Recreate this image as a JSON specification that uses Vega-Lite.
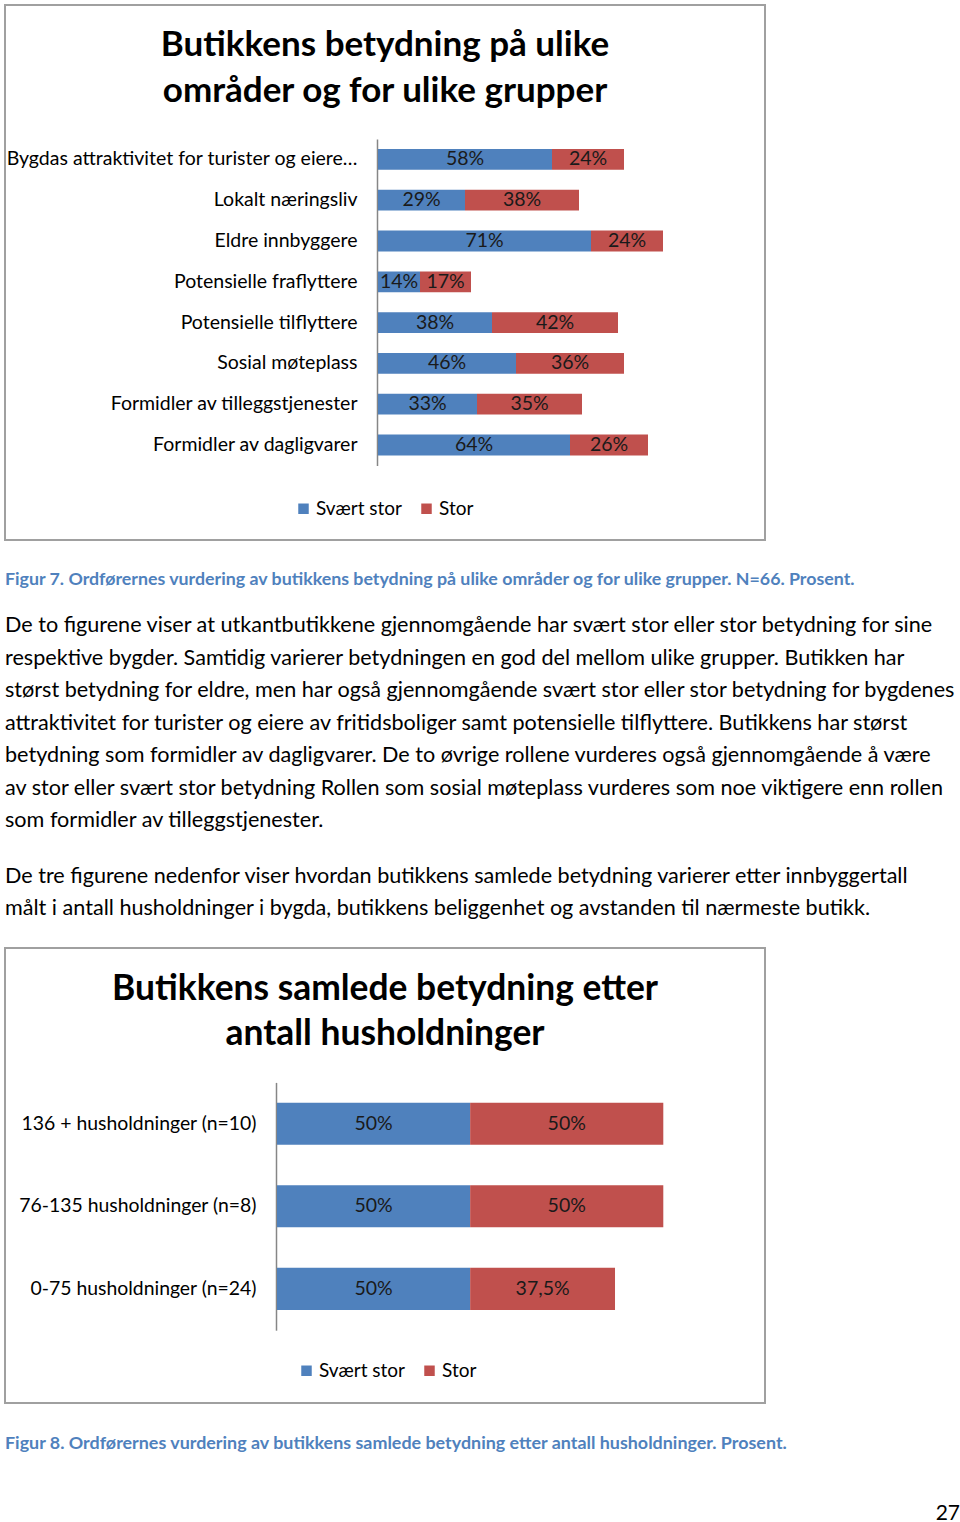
{
  "$schema": "https://vega.github.io/schema/vega-lite/v6.json",
  "background": "white",
  "padding": {"left": 4, "top": 4, "right": 0, "bottom": 0},
  "bounds": "flush",
  "spacing": 0,
  "resolve": {"scale": {"color": "independent"}, "legend": {"color": "independent"}},
  "config": {
    "view": {"stroke": null},
    "font": "Lato",
    "locale": {"number": {"decimal": ",", "thousands": " ", "grouping": [3], "currency": ["", " kr"]}},
    "legend": {"title": null, "symbolType": "square", "symbolSize": 110, "symbolStrokeWidth": 0, "labelFontSize": 19, "labelFont": "Lato", "labelColor": "#000000", "labelOffset": 3, "columnPadding": 15, "direction": "horizontal", "orient": "none"}
  },
  "datasets": {
    "figur7": [
      {"gruppe": "Bygdas attraktivitet for turister og eiere…", "grad": "Svært stor", "andel": 0.58},
      {"gruppe": "Bygdas attraktivitet for turister og eiere…", "grad": "Stor", "andel": 0.24},
      {"gruppe": "Lokalt næringsliv", "grad": "Svært stor", "andel": 0.29},
      {"gruppe": "Lokalt næringsliv", "grad": "Stor", "andel": 0.38},
      {"gruppe": "Eldre innbyggere", "grad": "Svært stor", "andel": 0.71},
      {"gruppe": "Eldre innbyggere", "grad": "Stor", "andel": 0.24},
      {"gruppe": "Potensielle fraflyttere", "grad": "Svært stor", "andel": 0.14},
      {"gruppe": "Potensielle fraflyttere", "grad": "Stor", "andel": 0.17},
      {"gruppe": "Potensielle tilflyttere", "grad": "Svært stor", "andel": 0.38},
      {"gruppe": "Potensielle tilflyttere", "grad": "Stor", "andel": 0.42},
      {"gruppe": "Sosial møteplass", "grad": "Svært stor", "andel": 0.46},
      {"gruppe": "Sosial møteplass", "grad": "Stor", "andel": 0.36},
      {"gruppe": "Formidler av tilleggstjenester", "grad": "Svært stor", "andel": 0.33},
      {"gruppe": "Formidler av tilleggstjenester", "grad": "Stor", "andel": 0.35},
      {"gruppe": "Formidler av dagligvarer", "grad": "Svært stor", "andel": 0.64},
      {"gruppe": "Formidler av dagligvarer", "grad": "Stor", "andel": 0.26}
    ],
    "figur8": [
      {"gruppe": "136 + husholdninger (n=10)", "grad": "Svært stor", "andel": 0.5},
      {"gruppe": "136 + husholdninger (n=10)", "grad": "Stor", "andel": 0.5},
      {"gruppe": "76-135 husholdninger (n=8)", "grad": "Svært stor", "andel": 0.5},
      {"gruppe": "76-135 husholdninger (n=8)", "grad": "Stor", "andel": 0.5},
      {"gruppe": "0-75 husholdninger (n=24)", "grad": "Svært stor", "andel": 0.5},
      {"gruppe": "0-75 husholdninger (n=24)", "grad": "Stor", "andel": 0.375}
    ],
    "figurtekst7": [
      {"tekst": "Figur 7. Ordførernes vurdering av butikkens betydning på ulike områder og for ulike grupper. N=66. Prosent."}
    ],
    "avsnitt1": [
      {"tekst": "De to figurene viser at utkantbutikkene gjennomgående har svært stor eller stor betydning for sine"},
      {"tekst": "respektive bygder. Samtidig varierer betydningen en god del mellom ulike grupper. Butikken har"},
      {"tekst": "størst betydning for eldre, men har også gjennomgående svært stor eller stor betydning for bygdenes"},
      {"tekst": "attraktivitet for turister og eiere av fritidsboliger samt potensielle tilflyttere. Butikkens har størst"},
      {"tekst": "betydning som formidler av dagligvarer. De to øvrige rollene vurderes også gjennomgående å være"},
      {"tekst": "av stor eller svært stor betydning Rollen som sosial møteplass vurderes som noe viktigere enn rollen"},
      {"tekst": "som formidler av tilleggstjenester."}
    ],
    "avsnitt2": [
      {"tekst": "De tre figurene nedenfor viser hvordan butikkens samlede betydning varierer etter innbyggertall"},
      {"tekst": "målt i antall husholdninger i bygda, butikkens beliggenhet og avstanden til nærmeste butikk."}
    ],
    "figurtekst8": [
      {"tekst": "Figur 8. Ordførernes vurdering av butikkens samlede betydning etter antall husholdninger. Prosent."}
    ],
    "side": [
      {"tekst": "27"}
    ]
  },
  "vconcat": [
    {
      "width": 760,
      "height": 535,
      "view": {"stroke": "#A0A0A0", "strokeWidth": 2, "fill": "white"},
      "title": {"text": ["Butikkens betydning på ulike", "områder og for ulike grupper"], "font": "Lato", "fontSize": 35, "fontWeight": "bold", "lineHeight": 46, "color": "#000000", "anchor": "middle", "frame": "group", "offset": -104},
      "data": {"name": "figur7"},
      "encoding": {
        "y": {"field": "gruppe", "type": "nominal", "sort": null,
          "scale": {"type": "band", "range": [134, 460.4], "paddingInner": 0.49, "paddingOuter": 0.245},
          "axis": {"title": null, "orient": "left", "offset": -372, "ticks": false, "labelPadding": 20, "labelFontSize": 19.5, "labelFont": "Lato", "labelColor": "#000000", "labelLimit": 400, "domainColor": "#868686", "domainWidth": 1.5, "grid": false}}
      },
      "layer": [
        {
          "mark": {"type": "bar"},
          "encoding": {
            "x": {"field": "andel", "type": "quantitative", "stack": "zero", "scale": {"domain": [0, 1], "range": [373, 673], "nice": false}, "axis": null},
            "color": {"field": "grad", "type": "nominal", "scale": {"domain": ["Svært stor", "Stor"], "range": ["#4F81BD", "#C0504D"]},
              "legend": {"orient": "none", "legendX": 289, "legendY": 494}},
            "order": {"field": "grad", "sort": "descending"}
          }
        },
        {
          "mark": {"type": "text", "align": "center", "baseline": "middle", "font": "Lato", "fontSize": 19.5, "color": "#1a1a1a"},
          "encoding": {
            "x": {"field": "andel", "type": "quantitative", "stack": "zero", "bandPosition": 0.5},
            "detail": {"field": "grad"},
            "order": {"field": "grad", "sort": "descending"},
            "text": {"field": "andel", "type": "quantitative", "format": "~%"}
          }
        }
      ]
    },
    {
      "width": 952,
      "height": 69.75,
      "data": {"name": "figurtekst7"},
      "mark": {"type": "text", "align": "left", "baseline": "middle", "font": "Lato", "fontSize": 17.8, "fontWeight": "bold", "color": "#4F81BD"},
      "encoding": {
        "x": {"datum": 0, "type": "quantitative", "scale": {"domain": [0, 1]}, "axis": null},
        "y": {"field": "tekst", "type": "nominal", "sort": null, "scale": {"type": "band", "paddingInner": 0, "paddingOuter": 1.24375, "align": 0.603}, "axis": null},
        "text": {"field": "tekst"}
      }
    },
    {
      "width": 952,
      "height": 227.5,
      "data": {"name": "avsnitt1"},
      "mark": {"type": "text", "align": "left", "baseline": "middle", "font": "Lato", "fontSize": 21.6, "color": "#000000"},
      "encoding": {
        "x": {"datum": 0, "type": "quantitative", "scale": {"domain": [0, 1]}, "axis": null},
        "y": {"field": "tekst", "type": "nominal", "sort": null, "scale": {"type": "band", "paddingInner": 0, "paddingOuter": 0}, "axis": null},
        "text": {"field": "tekst"}
      }
    },
    {
      "width": 952,
      "height": 109.75,
      "data": {"name": "avsnitt2"},
      "mark": {"type": "text", "align": "left", "baseline": "middle", "font": "Lato", "fontSize": 21.6, "color": "#000000"},
      "encoding": {
        "x": {"datum": 0, "type": "quantitative", "scale": {"domain": [0, 1]}, "axis": null},
        "y": {"field": "tekst", "type": "nominal", "sort": null, "scale": {"type": "band", "paddingInner": 0, "paddingOuter": 0.688}, "axis": null},
        "text": {"field": "tekst"}
      }
    },
    {
      "width": 760,
      "height": 455,
      "view": {"stroke": "#A0A0A0", "strokeWidth": 2, "fill": "white"},
      "title": {"text": ["Butikkens samlede betydning etter", "antall husholdninger"], "font": "Lato", "fontSize": 35.4, "fontWeight": "bold", "lineHeight": 45, "color": "#000000", "anchor": "middle", "frame": "group", "offset": -104},
      "data": {"name": "figur8"},
      "encoding": {
        "y": {"field": "gruppe", "type": "nominal", "sort": null,
          "scale": {"type": "band", "range": [134.4, 382.2], "paddingInner": 0.49, "paddingOuter": 0.245},
          "axis": {"title": null, "orient": "left", "offset": -271, "ticks": false, "labelPadding": 20, "labelFontSize": 19.4, "labelFont": "Lato", "labelColor": "#000000", "labelLimit": 400, "domainColor": "#868686", "domainWidth": 1.5, "grid": false}}
      },
      "layer": [
        {
          "mark": {"type": "bar"},
          "encoding": {
            "x": {"field": "andel", "type": "quantitative", "stack": "zero", "scale": {"domain": [0, 1], "range": [272, 658.3], "nice": false}, "axis": null},
            "color": {"field": "grad", "type": "nominal", "scale": {"domain": ["Svært stor", "Stor"], "range": ["#4F81BD", "#C0504D"]},
              "legend": {"orient": "none", "legendX": 292, "legendY": 413}},
            "order": {"field": "grad", "sort": "descending"}
          }
        },
        {
          "mark": {"type": "text", "align": "center", "baseline": "middle", "font": "Lato", "fontSize": 19.5, "color": "#1a1a1a"},
          "encoding": {
            "x": {"field": "andel", "type": "quantitative", "stack": "zero", "bandPosition": 0.5},
            "detail": {"field": "grad"},
            "order": {"field": "grad", "sort": "descending"},
            "text": {"field": "andel", "type": "quantitative", "format": "~%"}
          }
        }
      ]
    },
    {
      "width": 952,
      "height": 82,
      "data": {"name": "figurtekst8"},
      "mark": {"type": "text", "align": "left", "baseline": "middle", "font": "Lato", "fontSize": 17.9, "fontWeight": "bold", "color": "#4F81BD"},
      "encoding": {
        "x": {"datum": 0, "type": "quantitative", "scale": {"domain": [0, 1]}, "axis": null},
        "y": {"field": "tekst", "type": "nominal", "sort": null, "scale": {"type": "band", "paddingInner": 0, "paddingOuter": 1, "align": 0.5}, "axis": null},
        "text": {"field": "tekst"}
      }
    },
    {
      "width": 955,
      "height": 39,
      "data": {"name": "side"},
      "mark": {"type": "text", "align": "right", "baseline": "middle", "font": "Lato", "fontSize": 21, "color": "#000000"},
      "encoding": {
        "x": {"datum": 1, "type": "quantitative", "scale": {"domain": [0, 1]}, "axis": null},
        "y": {"field": "tekst", "type": "nominal", "sort": null, "scale": {"type": "band", "paddingInner": 0, "paddingOuter": 0.475, "align": 1}, "axis": null},
        "text": {"field": "tekst"}
      }
    }
  ]
}
